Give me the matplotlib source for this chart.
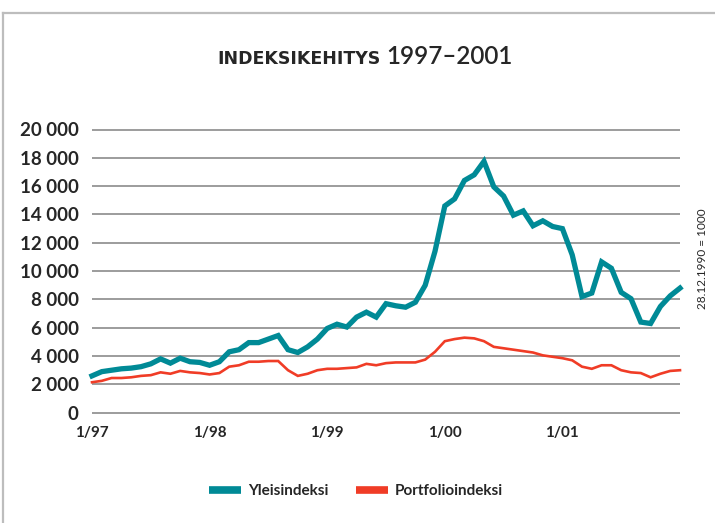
import matplotlib
matplotlib.use("Agg")
import matplotlib.pyplot as plt
from matplotlib.lines import Line2D

# ---------------- data ----------------
months = list(range(61))  # monthly points, 1/97 ... 1/02
yleisindeksi = [
    2600, 2900, 3000, 3100, 3150, 3250, 3450, 3800, 3500, 3850,
    3600, 3550, 3350, 3600, 4300, 4450, 4950, 4950, 5200, 5450,
    4450, 4250, 4650, 5200, 5950, 6250, 6050, 6750, 7100, 6750,
    7700, 7550, 7450, 7800, 9000, 11400, 14600, 15100, 16400, 16800,
    17750, 15950, 15300, 13950, 14250, 13200, 13550, 13150, 13000, 11150,
    8200, 8450, 10650, 10200, 8500, 8050, 6400, 6300, 7500, 8250,
    8800,
]
portfolioindeksi = [
    2150, 2250, 2450, 2450, 2500, 2600, 2650, 2850, 2750, 2950,
    2850, 2800, 2700, 2800, 3250, 3350, 3600, 3600, 3650, 3650,
    3000, 2600, 2750, 3000, 3100, 3100, 3150, 3200, 3450, 3350,
    3500, 3550, 3550, 3550, 3750, 4300, 5050, 5200, 5300, 5250,
    5050, 4650, 4550, 4450, 4350, 4250, 4050, 3950, 3850, 3700,
    3250, 3100, 3350, 3350, 3000, 2850, 2800, 2500, 2750, 2950,
    3000,
]
x_ticks = [0, 12, 24, 36, 48]
x_labels = ["1/97", "1/98", "1/99", "1/00", "1/01"]
y_ticks = [0, 2000, 4000, 6000, 8000, 10000, 12000, 14000, 16000, 18000, 20000]
y_labels = ["0", "2 000", "4 000", "6 000", "8 000", "10 000",
            "12 000", "14 000", "16 000", "18 000", "20 000"]
series_names = ["Yleisindeksi", "Portfolioindeksi"]
title_word = "INDEKSIKEHITYS"
title_years = "1997–2001"
base_note = "28.12.1990 = 1000"

TEAL = "#008a96"
RED = "#f03c26"
GRID = "#9c9c9c"
TXT = "#262626"

plt.rcParams["font.family"] = ["Lato", "DejaVu Sans"]

W, H = 715, 523
fig = plt.figure(figsize=(W / 100, H / 100), dpi=100)

# axes placement (pixels)
x_left, x_right = 92, 680
y0_px, y20k_px = 412.7, 129.5
pad_val = 250
sc = (y0_px - y20k_px) / 20000
bot_px = y0_px + pad_val * sc
top_px = y20k_px - pad_val * sc
ax = fig.add_axes([x_left / W, 1 - bot_px / H, (x_right - x_left) / W, (bot_px - top_px) / H])
ax.set_xlim(0, 60)
ax.set_ylim(-pad_val, 20000 + pad_val)

for v in y_ticks:
    ax.axhline(v, color=GRID, lw=1.4, zorder=1)

ax.plot(months, portfolioindeksi, color=RED, lw=1.9, zorder=3, clip_on=False,
        solid_joinstyle="miter")
ax.plot(months, yleisindeksi, color=TEAL, lw=3.8, zorder=4, clip_on=False,
        solid_joinstyle="miter")

for s in ax.spines.values():
    s.set_visible(False)
ax.set_yticks(y_ticks)
ax.set_yticklabels(y_labels)
ax.set_xticks(x_ticks)
ax.set_xticklabels(x_labels)
ax.tick_params(axis="y", length=0, pad=9.5, labelsize=13.5, labelcolor=TXT)
ax.tick_params(axis="x", length=0, pad=7, labelsize=11, labelcolor=TXT)
for t in ax.get_yticklabels() + ax.get_xticklabels():
    t.set_fontweight("bold")

# title
title_y = 1 - 64 / H
fig.text(381 / W, title_y, title_word, ha="right", va="baseline",
         fontsize=12.5, fontweight="bold", color=TXT, family="DejaVu Sans")
fig.text(386 / W, title_y, title_years, ha="left", va="baseline",
         fontsize=17.5, fontweight="semibold", color=TXT)

# rotated note
fig.text(702 / W, 1 - 259 / H, base_note, rotation=90, ha="center", va="center",
         fontsize=8.5, color=TXT)

# legend
handles = [Line2D([], [], color=TEAL, lw=5.5, solid_capstyle="butt"),
           Line2D([], [], color=RED, lw=5.5, solid_capstyle="butt")]
leg = fig.legend(handles, series_names, loc="center", bbox_to_anchor=(356 / W, 1 - 491 / H),
                 ncol=2, frameon=False, fontsize=11, handlelength=2.1,
                 handletextpad=0.45, columnspacing=1.8)
for t in leg.get_texts():
    t.set_fontweight("bold")
    t.set_color(TXT)

# page frame (top and left edges)
fig.add_artist(Line2D([3 / W, 3 / W], [0, 1 - 13 / H], color="#bdbdbd", lw=1.6))
fig.add_artist(Line2D([3 / W, 1], [1 - 13 / H, 1 - 13 / H], color="#bdbdbd", lw=1.6))

fig.savefig("out.png", dpi=100, facecolor="white")
